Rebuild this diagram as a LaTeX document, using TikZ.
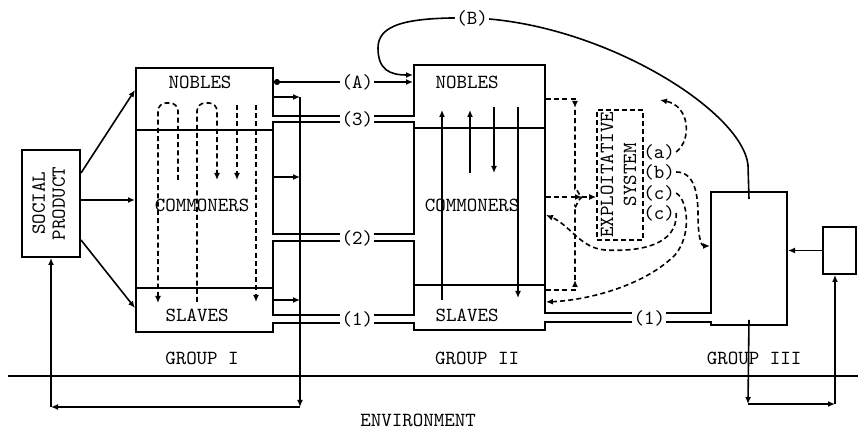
\documentclass[tikz,border=0pt]{standalone}
\usepackage{graphicx}
\usepackage{tikz}
\usetikzlibrary{arrows.meta}
\newcommand{\diagfont}{\ttfamily\fontsize{10}{10}\selectfont}
\tikzset{
  box/.style={draw, line width=1pt, inner sep=0pt},
  dbox/.style={box, line width=0.8pt, dash pattern=on 2.5pt off 1.5pt},
  layer/.style={inner sep=1pt},
  wall/.style={line width=1pt},
  pipe/.style={line width=0.8pt},
  flow/.style={-{Latex[length=3.5pt,width=3pt]}, line width=0.8pt},
  dline/.style={line width=0.8pt, dash pattern=on 2.5pt off 1.6pt},
  dflow/.style={flow, dash pattern=on 2.5pt off 1.6pt},
  plabel/.style={fill=white, inner sep=0.6pt},
  tick/.style={line width=0.8pt},
}

\begin{document}
\begin{tikzpicture}[x=0.5pt, y=-0.5pt, font=\diagfont]
  \useasboundingbox (0,0) rectangle (858,431);

  % --- Caixas principais ---------------------------------------------------
  \node[box, minimum width=29pt, minimum height=53.5pt] (social) at (51,203.5)
    {\rotatebox{90}{\begin{tabular}{@{}c@{}}SOCIAL\\PRODUCT\end{tabular}}};
  \node[box, minimum width=68.5pt, minimum height=132pt] (g1) at (204.5,200) {};
  \node[box, minimum width=65.5pt, minimum height=132.5pt] (g2) at (479.5,197.5) {};
  \node[box, minimum width=38pt, minimum height=66.5pt] (g3) at (749,258.5) {};
  \node[box, minimum width=16.5pt, minimum height=23.5pt] (outbox) at (839.5,250.5) {};
  \node[dbox, minimum width=23pt, minimum height=65pt] (expl) at (620,175)
    {\fontsize{10}{11.5}\selectfont\rotatebox{90}{\begin{tabular}{@{}c@{}}EXPLOITATIVE\\SYSTEM\end{tabular}}};

  % --- Camadas dos grupos I e II ---------------------------------------------
  \draw[wall] (g1.west |- 0,130) -- (g1.east |- 0,130);
  \draw[wall] (g1.west |- 0,288) -- (g1.east |- 0,288);
  \draw[wall] (g2.west |- 0,128) -- (g2.east |- 0,128);
  \draw[wall] (g2.west |- 0,285) -- (g2.east |- 0,285);

  \node[layer] (nob1) at (200,82)  {NOBLES};
  \node[layer] (com1) at (202,205) {COMMONERS};
  \node[layer] (sla1) at (197,315) {SLAVES};
  \node[layer] (nob2) at (467,82)  {NOBLES};
  \node[layer] (com2) at (472,205) {COMMONERS};
  \node[layer] (sla2) at (467,315) {SLAVES};

  \node[layer] (grp1) at (202,358) {GROUP I};
  \node[layer] (grp2) at (477,358) {GROUP II};
  \node[layer] (grp3) at (754,358) {GROUP III};

  % --- Ambiente ---------------------------------------------------------------
  \draw[pipe] (8,376) -- (858,376);
  \node[layer] (env) at (418,420) {ENVIRONMENT};

  % --- Aberturas dos canais duplos --------------------------------------------
  \fill[white] ([xshift=-1pt]g1.east |- 0,116.8) rectangle ([xshift=1pt]g2.west |- 0,121.2);
  \fill[white] ([xshift=-1pt]g1.east |- 0,234.8) rectangle ([xshift=1pt]g2.west |- 0,240.2);
  \fill[white] ([xshift=-1pt]g1.east |- 0,315.8) rectangle ([xshift=1pt]g2.west |- 0,322.2);
  \fill[white] ([xshift=-1pt]g2.east |- 0,313.8) rectangle ([xshift=1pt]g3.west |- 0,321.2);

  % --- Produto social -> grupo I ---------------------------------------------
  \draw[flow] (social.east |- 0,173) -- (g1.west |- 0,90);
  \draw[flow] (social.east |- 0,200) -- (g1.west |- 0,200);
  \draw[flow] (social.east |- 0,240) -- (g1.west |- 0,308);

  % --- Fluxos internos do grupo I (tracejados) -------------------------------
  \draw[dflow, rounded corners=4pt] (178,180) |- (158,103) -- (158,303);
  \draw[dflow, rounded corners=4pt] (197,302) |- (217,103) -- (217,180);
  \draw[dflow] (237,105) -- (237,180);
  \draw[dflow] (256,105) -- (256,302);

  % --- Fluxos internos do grupo II --------------------------------------------
  \draw[flow] (442,300) -- (442,110);
  \draw[flow] (470,173) -- (470,110);
  \draw[flow] (494,107) -- (494,173);
  \draw[flow] (518,107) -- (518,298);

  % --- Barramento do grupo I para o ambiente ---------------------------------
  \coordinate (bustop) at (300,97);
  \coordinate (busbot) at (300,407);
  \coordinate (envleft) at (51,407);
  \draw[flow] (g1.east |- bustop) -- (bustop);
  \draw[flow] (g1.east |- 0,177) -- (bustop |- 0,177);
  \draw[flow] (g1.east |- 0,300) -- (bustop |- 0,300);
  \draw[flow] (bustop) -- (busbot);
  \draw[flow] (busbot) -- (envleft);
  \draw[flow] (envleft) -- (social.south);

  % --- Canais grupo I -> grupo II ---------------------------------------------
  \draw[flow, {Circle[length=3pt]}-{Latex[length=3.5pt,width=3pt]}] (g1.east |- 0,82) -- node[plabel, pos=0.6]{(A)} (g2.west |- 0,82);

  \draw[pipe] (g1.east |- 0,116) -- (g2.west |- 0,116);
  \draw[pipe] (g1.east |- 0,122) -- (g2.west |- 0,122);
  \path (g1.east |- 0,119) -- node[plabel, pos=0.6]{(3)} (g2.west |- 0,119);

  \draw[pipe] (g1.east |- 0,234) -- (g2.west |- 0,234);
  \draw[pipe] (g1.east |- 0,241) -- (g2.west |- 0,241);
  \path (g1.east |- 0,238) -- node[plabel, pos=0.6]{(2)} (g2.west |- 0,238);

  \draw[pipe] (g1.east |- 0,315) -- (g2.west |- 0,315);
  \draw[pipe] (g1.east |- 0,323) -- (g2.west |- 0,323);
  \path (g1.east |- 0,319) -- node[plabel, pos=0.6]{(1)} (g2.west |- 0,319);

  % --- Canal grupo II -> grupo III --------------------------------------------
  \draw[pipe] (g2.east |- 0,313) -- (g3.west |- 0,313);
  \draw[pipe] (g2.east |- 0,322) -- (g3.west |- 0,322);
  \path (g2.east |- 0,318) -- node[plabel, pos=0.63]{(1)} (g3.west |- 0,318);

  % --- Ligacao (B): grupo III -> nobres do grupo II --------------------------
  \draw[flow] ([yshift=-4pt]g3.north) -- (748,165)
    .. controls (742,110) and (600,22) .. (472,18) node[plabel]{(B)}
    .. controls (405,17) and (378,25) .. (378,48)
    .. controls (378,70) and (390,75) .. (g2.west |- 0,75);

  % --- Sistema de exploracao ---------------------------------------------------
  \node[inner sep=0.5pt] (la)  at (659,152) {(a)};
  \node[inner sep=0.5pt] (lb)  at (659,172) {(b)};
  \node[inner sep=0.5pt] (lc1) at (659,193) {(c)};
  \node[inner sep=0.5pt] (lc2) at (659,213) {(c)};
  \draw[tick] (expl.east |- la)  -- (la.west);
  \draw[tick] (expl.east |- lb)  -- (lb.west);
  \draw[tick] (expl.east |- lc1) -- (lc1.west);
  \draw[tick] (expl.east |- lc2) -- (lc2.west);

  % nobres, plebeus e escravos do grupo II -> sistema
  \draw[dflow] (g2.east |- 0,99) -| (575,108);
  \draw[dline] (575,110) -- (575,188) to[out=90,in=180] (583,197);
  \draw[dflow] (g2.east |- 0,197) -- (582,197);
  \draw[dflow] (582,197) -- (expl.west |- 0,197);
  \draw[dflow] (g2.east |- 0,290) -| (575,280);
  \draw[dline] (575,280) -- (575,206) to[out=-90,in=180] (583,197);

  % saidas (a), (b), (c)
  \draw[dflow] (la.east) .. controls (692,140) and (690,106) .. (660,100);
  \draw[dflow] (lb.east) .. controls (695,172) and (698,195) .. (698,215)
    .. controls (698,240) and (702,246) .. (g3.west |- 0,246);
  \draw[dflow] (lc1.east) .. controls (688,200) and (692,235) .. (675,255)
    .. controls (645,285) and (590,300) .. (g2.east |- 0,302);
  \draw[dflow] (lc2.east) .. controls (678,245) and (640,252) .. (605,250)
    .. controls (580,248) and (570,225) .. (g2.east |- 0,215);

  % --- Grupo III e ambiente ---------------------------------------------------
  \draw[flow] (outbox.west) -- (g3.east |- outbox.west);
  \coordinate (envmid) at (748,404);
  \coordinate (envright) at (835,404);
  \draw[flow] ([yshift=3pt]g3.south) -- (envmid);
  \draw[flow] (envmid) -- (envright);
  \draw[flow] (envright) -- (envright |- outbox.south);

\end{tikzpicture}
\end{document}
